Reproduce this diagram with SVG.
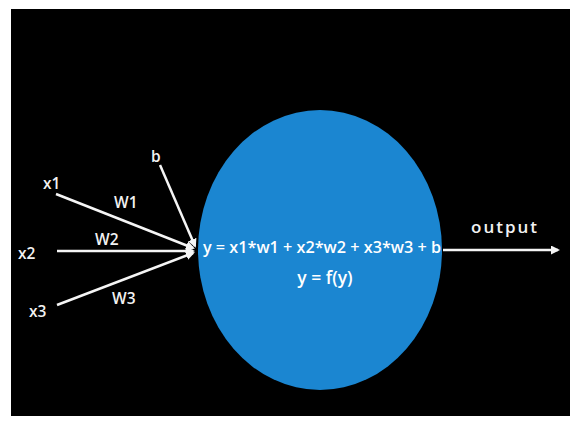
<svg xmlns="http://www.w3.org/2000/svg" width="581" height="425" viewBox="0 0 581 425">
<style>
.lbl{font-family:"Open Sans","DejaVu Sans",sans-serif;font-weight:600;font-size:15.5px;fill:#f2f2f2}
.eq{font-family:"Open Sans","Noto Sans",sans-serif;font-weight:600;font-size:16.2px;fill:#ffffff}
.ln{stroke:#f5f5f5;stroke-width:2.5;fill:none}
</style>
<defs>
<marker id="ah" markerWidth="9" markerHeight="9" refX="7" refY="4.5" orient="auto" markerUnits="userSpaceOnUse" viewBox="0 0 9 9">
<path d="M0,0 L9,4.5 L0,9 z" fill="#f5f5f5"/>
</marker>
</defs>
<rect x="0" y="0" width="581" height="425" fill="#ffffff"/>
<rect x="11" y="9" width="559" height="407" fill="#000000"/>
<g id="neuron">
<ellipse cx="320" cy="250" rx="122" ry="140" fill="#1b86d1"/>
<text class="eq" x="322" y="253" text-anchor="middle" textLength="238" lengthAdjust="spacingAndGlyphs">y = x1*w1 + x2*w2 + x3*w3 + b</text>
<text class="eq" x="325" y="284" text-anchor="middle" style="font-size:17.5px">y = f(y)</text>
</g>
<g id="connectors">
<line class="ln" x1="56" y1="194" x2="193" y2="248" marker-end="url(#ah)"/>
<line class="ln" x1="57" y1="251" x2="193" y2="251" marker-end="url(#ah)"/>
<line class="ln" x1="57" y1="305" x2="193" y2="253" marker-end="url(#ah)"/>
<line class="ln" x1="160" y1="165" x2="195" y2="246" marker-end="url(#ah)"/>
<line class="ln" x1="443" y1="250" x2="558" y2="250" marker-end="url(#ah)"/>
</g>
<g id="x1"><text class="lbl" x="43" y="189">x1</text></g>
<g id="x2"><text class="lbl" x="18" y="259">x2</text></g>
<g id="x3"><text class="lbl" x="29" y="317">x3</text></g>
<g id="b"><text class="lbl" x="151" y="162">b</text></g>
<g id="w1"><text class="lbl" x="114" y="208">W1</text></g>
<g id="w2"><text class="lbl" x="95" y="245">W2</text></g>
<g id="w3"><text class="lbl" x="112" y="304">W3</text></g>
<g id="output"><text class="lbl" x="471" y="233" style="font-size:17px;letter-spacing:2px">output</text></g>
</svg>
